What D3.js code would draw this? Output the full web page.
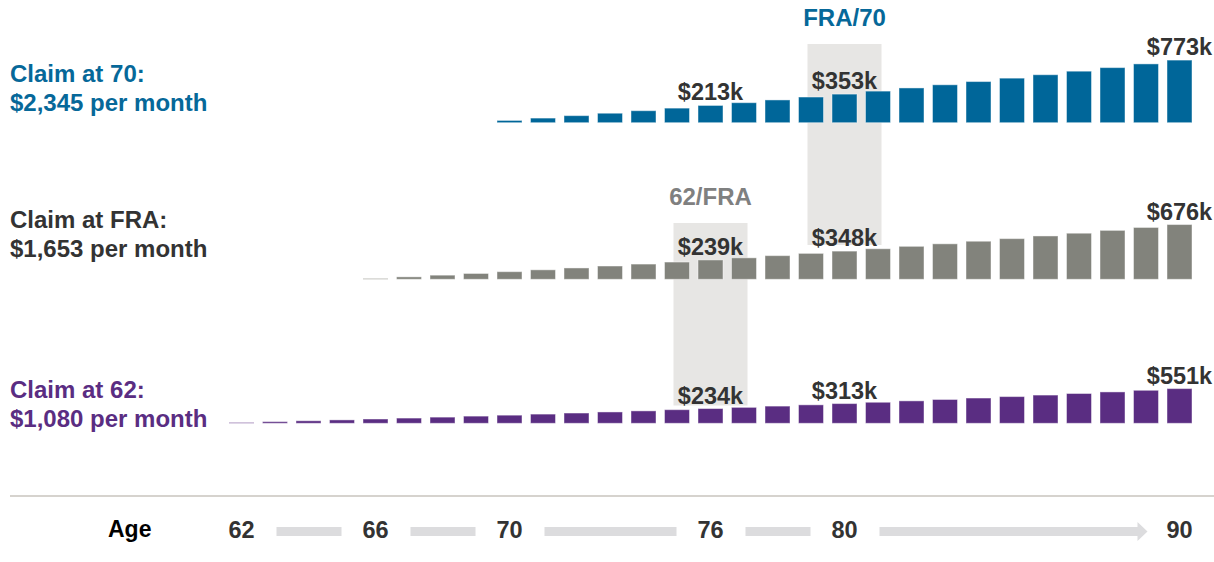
<!DOCTYPE html>
<html>

<head>
    <meta charset="UTF-8" />
    <title>Cumulative Social Security benefits by claiming age</title>
    <script src="https://d3js.org/d3.v7.min.js"></script>
    <style>
        body {
            margin: 0;
            background: #fff;
        }

        svg text {
            font-family: "Liberation Sans", Arial, sans-serif;
            font-weight: bold;
        }
    </style>
</head>

<body>
    <svg width="1214" height="562" class="chart"></svg>

    <script>
        // ages on the x axis (one bar per age)
        const ages = [62, 63, 64, 65, 66, 67, 68, 69, 70, 71, 72, 73, 74, 75, 76,
            77, 78, 79, 80, 81, 82, 83, 84, 85, 86, 87, 88, 89, 90];
        const tickAges = [62, 66, 70, 76, 80, 90];

        // cumulative benefits, $k
        const claim62Start = 62;
        const claim62Values = [13, 26, 40, 54, 68, 83, 98, 114, 129, 146, 163, 180, 197, 216, 234,
            253, 273, 293, 313, 334, 356, 378, 401, 424, 448, 473, 498, 524, 551];
        const claimFraStart = 66;
        const claimFraValues = [10, 30, 51, 72, 94, 117, 140, 164, 188, 213, 239, 265, 292,
            320, 348, 377, 407, 438, 470, 502, 535, 569, 604, 640, 676];
        const claim70Start = 70;
        const claim70Values = [28, 57, 87, 117, 148, 180, 213, 247, 281, 317, 353, 390, 429,
            468, 508, 550, 592, 636, 680, 726, 773];

        // ages whose totals are written above the bars
        const labelAges = [76, 80, 90];

        const titles70 = ["Claim at 70:", "$2,345 per month"];
        const titlesFra = ["Claim at FRA:", "$1,653 per month"];
        const titles62 = ["Claim at 62:", "$1,080 per month"];

        // highlighted crossover ages
        const highlights = [
            { label: "FRA/70", age: 80 },
            { label: "62/FRA", age: 76 }
        ];

        var svg = d3.select("svg");
        var xScale = d3.scaleLinear().domain([62, 90]).range([241.5, 1179.5]);
        var barWidth = 25;

        // one row per claiming age: baseline + own height scale
        var rows = [
            { start: claim70Start, values: claim70Values, titles: titles70, color: "#006699", text: "#066899",
                base: 122.7, y: d3.scaleLinear().domain([0, 800]).range([0, 64.8]), titleY: 82 },
            { start: claimFraStart, values: claimFraValues, titles: titlesFra, color: "#82837c", text: "#333333",
                base: 279.3, y: d3.scaleLinear().domain([0, 800]).range([0, 64.8]), titleY: 228 },
            { start: claim62Start, values: claim62Values, titles: titles62, color: "#5a2d82", text: "#5a2d82",
                base: 423.3, y: d3.scaleLinear().domain([0, 800]).range([0, 50.4]), titleY: 398 }
        ];

        // grey highlight boxes (behind everything)
        var boxSpec = [
            { top: 44, bottom: 245, color: "#066899" },
            { top: 223, bottom: 405.5, color: "#7f8080" }
        ];
        highlights.forEach(function (h, i) {
            var b = boxSpec[i];
            svg.append("rect")
                .attr("x", xScale(h.age) - 37)
                .attr("y", b.top)
                .attr("width", 74)
                .attr("height", b.bottom - b.top)
                .attr("fill", "#e7e6e4");
            svg.append("text")
                .attr("x", xScale(h.age))
                .attr("y", b.top - 18)
                .attr("text-anchor", "middle")
                .attr("font-size", "24px")
                .attr("fill", b.color)
                .text(h.label);
        });

        rows.forEach(function (row) {
            var data = row.values.map(function (v, i) { return { age: row.start + i, value: v }; });
            var g = svg.append("g");

            g.selectAll("rect").data(data).enter().append("rect")
                .attr("x", d => xScale(d.age) - barWidth / 2)
                .attr("y", d => row.base - row.y(d.value))
                .attr("width", barWidth)
                .attr("height", d => row.y(d.value))
                .attr("fill", row.color)
                .attr("stroke", "#fff")
                .attr("stroke-opacity", 0.45)
                .attr("stroke-width", 1);

            g.selectAll("text.value").data(data.filter(d => labelAges.includes(d.age))).enter()
                .append("text")
                .attr("class", "value")
                .attr("x", d => xScale(d.age))
                .attr("y", d => row.base - row.y(d.value) - 5)
                .attr("text-anchor", "middle")
                .attr("font-size", "23.5px")
                .attr("fill", "#333333")
                .text(d => "$" + d.value + "k");

            // row title on the left
            g.selectAll("text.title").data(row.titles).enter().append("text")
                .attr("class", "title")
                .attr("x", 10)
                .attr("y", (d, i) => row.titleY + i * 28.5)
                .attr("font-size", "24px")
                .attr("fill", row.text)
                .text(d => d);
        });

        // separator line
        svg.append("line")
            .attr("x1", 10).attr("x2", 1214)
            .attr("y1", 496).attr("y2", 496)
            .attr("stroke", "#d6d3ce")
            .attr("stroke-width", 2);

        // age axis
        svg.append("text")
            .attr("x", 108).attr("y", 537)
            .attr("font-size", "23px")
            .attr("fill", "#000")
            .text("Age");

        svg.selectAll("text.tick").data(tickAges).enter().append("text")
            .attr("class", "tick")
            .attr("x", d => xScale(d))
            .attr("y", 538)
            .attr("text-anchor", "middle")
            .attr("font-size", "23.5px")
            .attr("fill", "#333333")
            .text(d => d);

        // grey connectors between tick labels, last one is an arrow
        var pairs = d3.pairs(tickAges);
        pairs.forEach(function (p, i) {
            var x1 = xScale(p[0]) + 35, x2 = xScale(p[1]) - 34;
            if (i < pairs.length - 1) {
                svg.append("rect")
                    .attr("x", x1).attr("y", 527)
                    .attr("width", x2 - x1).attr("height", 9)
                    .attr("fill", "#dcdcde");
            } else {
                var tip = xScale(p[1]) - 32, neck = tip - 10;
                svg.append("path")
                    .attr("d", "M" + x1 + ",527 L" + neck + ",527 L" + neck + ",522 L" + tip + ",531.5 L" +
                        neck + ",541 L" + neck + ",536 L" + x1 + ",536 Z")
                    .attr("fill", "#dcdcde");
            }
        });
    </script>
</body>

</html>
